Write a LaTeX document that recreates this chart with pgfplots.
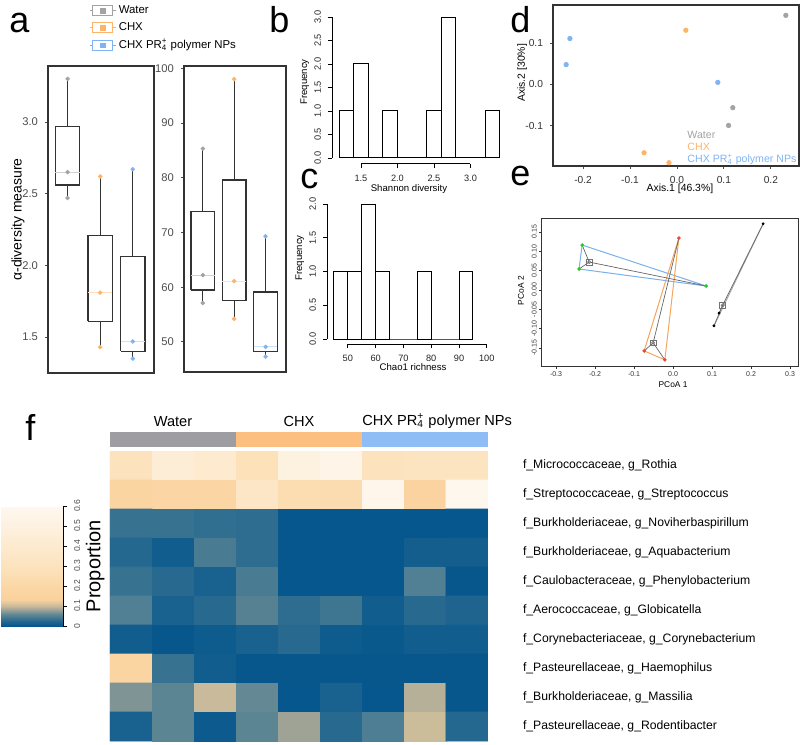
\documentclass[border=0pt]{standalone}
\usepackage{fontspec}
\setmainfont{Liberation Sans}
\usepackage{pgfplots}
\pgfplotsset{compat=1.18}
\usetikzlibrary{calc}

\definecolor{cwat}{HTML}{A3A3A3}
\definecolor{cchx}{HTML}{FDB36A}
\definecolor{cnp}{HTML}{7FB3F5}
\definecolor{boxc}{HTML}{333333}
\definecolor{tickc}{HTML}{4D4D4D}
\definecolor{barwat}{HTML}{9E9EA2}
\definecolor{barchx}{HTML}{FDBF80}
\definecolor{barnp}{HTML}{8EBDF6}
\definecolor{hullnp}{HTML}{7AB0EC}
\definecolor{hullchx}{HTML}{F4A65C}
\definecolor{ptgreen}{HTML}{22CC22}
\definecolor{ptred}{HTML}{E5483A}

\newcommand{\fs}[1]{\fontsize{#1}{#1}\selectfont}
\newcommand{\prf}{PR\rlap{\textsubscript{4}}\textsuperscript{+}}

% positions: 1 px of the reference = 0.5pt, y measured downwards
\pgfplotsset{
  every axis/.append style={scale only axis, anchor=north west,
    /pgf/number format/assume math mode=true},
  bxleg/.style={legend image code/.code={
    \draw[#1, line width=0.5pt] (-1.5pt,0pt) -- (0pt,0pt) (10pt,0pt) -- (11.5pt,0pt);
    \draw[#1, line width=0.5pt] (0pt,-2.5pt) rectangle (10pt,2.5pt);
    \fill[#1] (4pt,-1.2pt) rectangle (6.4pt,1.2pt);}},
  bx/.style={draw=boxc, line width=0.65pt, mark=none},
  med/.style={#1, line width=0.5pt, mark=none},
  apanel/.style={xmin=0.4, xmax=3.65, xtick=\empty,
    axis line style={boxc, line width=0.6pt}, tick align=outside, ytick pos=left,
    major tick length=1.5pt, tick style={tickc, line width=0.4pt},
    yticklabel style={font=\fs{5.6}, text=tickc}},
  rbase/.style={clip=false, axis line style={draw=none}, tick align=outside,
    xtick pos=bottom, ytick pos=left, major tick length=2pt,
    tick style={black, line width=0.4pt},
    ticklabel style={font=\fs{4.6}, text=black!85},
    yticklabel style={rotate=90, anchor=south}},
}

\begin{document}
\begin{tikzpicture}
\path[use as bounding box] (0pt,0pt) rectangle (400pt,-372.5pt);

% panel letters
\node[anchor=base west, inner sep=0, font=\fs{18}] at (4.5pt,-16pt) {a};
\node[anchor=base west, inner sep=0, font=\fs{18}] at (134.5pt,-16pt) {b};
\node[anchor=base west, inner sep=0, font=\fs{18}] at (150pt,-94pt) {c};
\node[anchor=base west, inner sep=0, font=\fs{18}] at (255pt,-16pt) {d};
\node[anchor=base west, inner sep=0, font=\fs{18}] at (255pt,-92.5pt) {e};
\node[anchor=base west, inner sep=0, font=\fs{18}] at (12.5pt,-220pt) {f};

% ---- a: Shannon
\begin{axis}[at={(24pt,-33pt)}, width=53pt, height=153.5pt, apanel,
  ymin=1.25, ymax=3.39, ytick={1.5,2,2.5,3}, yticklabels={1.5,2.0,2.5,3.0},
  ylabel={α-diversity measure},
  ylabel style={font=\fs{7}, at={(axis description cs:-0.283,0.5)}, anchor=center},
  legend style={at={(axis description cs:0.33,1.22)}, anchor=north west, draw=none,
    fill=none, font=\fs{5.7}, row sep=0.6pt, nodes={inner sep=1.2pt}}, legend cell align=left]
\addlegendimage{bxleg=cwat}\addlegendentry{Water}
\addlegendimage{bxleg=cchx}\addlegendentry{CHX}
\addlegendimage{bxleg=cnp}\addlegendentry{CHX \prf{} polymer NPs}
% water
\addplot[bx] coordinates {(1,2.97) (1,3.30)};
\addplot[bx] coordinates {(1,2.56) (1,2.47)};
\addplot[bx] coordinates {(0.625,2.56) (1.375,2.56) (1.375,2.97) (0.625,2.97) (0.625,2.56)};
\addplot[med=cwat!50] coordinates {(0.625,2.65) (1.375,2.65)};
% CHX
\addplot[bx] coordinates {(2,2.21) (2,2.62)};
\addplot[bx] coordinates {(2,1.61) (2,1.43)};
\addplot[bx] coordinates {(1.625,1.61) (2.375,1.61) (2.375,2.21) (1.625,2.21) (1.625,1.61)};
\addplot[med=cchx!40] coordinates {(1.625,1.81) (2.375,1.81)};
% CHX PR4+ NPs
\addplot[bx] coordinates {(3,2.06) (3,2.67)};
\addplot[bx] coordinates {(3,1.40) (3,1.35)};
\addplot[bx] coordinates {(2.625,1.40) (3.375,1.40) (3.375,2.06) (2.625,2.06) (2.625,1.40)};
\addplot[med=cnp!40] coordinates {(2.625,1.47) (3.375,1.47)};
\addplot[only marks, mark=*, mark size=0.9pt, cwat] coordinates {(1,3.30) (1,2.65) (1,2.47)};
\addplot[only marks, mark=*, mark size=0.9pt, cchx] coordinates {(2,2.62) (2,1.81) (2,1.43)};
\addplot[only marks, mark=*, mark size=0.9pt, cnp] coordinates {(3,2.67) (3,1.47) (3,1.35)};
\end{axis}

% ---- a: Chao1
\begin{axis}[at={(92pt,-33pt)}, width=51pt, height=153pt, apanel,
  ymin=44.5, ymax=100.4, ytick={50,60,...,100}]
\addplot[bx] coordinates {(1,73.8) (1,85.3)};
\addplot[bx] coordinates {(1,59.5) (1,57.1)};
\addplot[bx] coordinates {(0.625,59.5) (1.375,59.5) (1.375,73.8) (0.625,73.8) (0.625,59.5)};
\addplot[med=cwat!50] coordinates {(0.625,62.2) (1.375,62.2)};
\addplot[bx] coordinates {(2,79.6) (2,98.0)};
\addplot[bx] coordinates {(2,57.6) (2,54.2)};
\addplot[bx] coordinates {(1.625,57.6) (2.375,57.6) (2.375,79.6) (1.625,79.6) (1.625,57.6)};
\addplot[med=cchx!40] coordinates {(1.625,61.1) (2.375,61.1)};
\addplot[bx] coordinates {(3,59.1) (3,69.3)};
\addplot[bx] coordinates {(3,48.2) (3,47.3)};
\addplot[bx] coordinates {(2.625,48.2) (3.375,48.2) (3.375,59.1) (2.625,59.1) (2.625,48.2)};
\addplot[med=cnp!40] coordinates {(2.625,49.1) (3.375,49.1)};
\addplot[only marks, mark=*, mark size=0.9pt, cwat] coordinates {(1,85.3) (1,62.2) (1,57.1)};
\addplot[only marks, mark=*, mark size=0.9pt, cchx] coordinates {(2,98.0) (2,61.1) (2,54.2)};
\addplot[only marks, mark=*, mark size=0.9pt, cnp] coordinates {(3,69.3) (3,49.1) (3,47.3)};
\end{axis}

% ---- b: Shannon histogram
\begin{axis}[at={(166pt,-8.5pt)}, width=87.5pt, height=73.3pt, rbase,
  xmin=1.104, xmax=3.5, ymin=-0.12, ymax=3,
  xtick={1.5,2,2.5,3}, xticklabels={1.5,2.0,2.5,3.0},
  ytick={0,0.5,...,3}, yticklabels={0.0,0.5,1.0,1.5,2.0,2.5,3.0},
  xlabel={Shannon diversity}, ylabel={Frequency},
  xlabel style={font=\fs{4.8}, at={(axis description cs:0.44,-0.173)}, anchor=center},
  ylabel style={font=\fs{4.8}, at={(axis description cs:-0.155,0.557)}, anchor=center}]
\addplot[ybar interval, fill=white, draw=black, line width=0.5pt] coordinates {
  (1.2,1) (1.4,2) (1.6,0) (1.8,1) (2.0,0) (2.2,0) (2.4,1) (2.6,3) (2.8,0) (3.0,0) (3.2,1) (3.4,0)};
\draw[line width=0.4pt] (axis cs:1.104,0) -- (axis cs:1.104,3);
\draw[line width=0.4pt] (axis cs:1.5,-0.12) -- (axis cs:3,-0.12);
\end{axis}

% ---- c: Chao1 histogram
\begin{axis}[at={(163.5pt,-102pt)}, width=80.6pt, height=70pt, rbase,
  xmin=42.5, xmax=100.5, ymin=-0.074, ymax=2,
  xtick={50,60,...,100}, ytick={0,0.5,...,2}, yticklabels={0.0,0.5,1.0,1.5,2.0},
  xlabel={Chao1 richness}, ylabel={Frequency},
  xlabel style={font=\fs{4.8}, at={(axis description cs:0.534,-0.164)}, anchor=center},
  ylabel style={font=\fs{4.8}, at={(axis description cs:-0.168,0.614)}, anchor=center}]
\addplot[ybar interval, fill=white, draw=black, line width=0.5pt] coordinates {
  (45,1) (50,1) (55,2) (60,1) (65,0) (70,0) (75,1) (80,0) (85,0) (90,1) (95,0)};
\draw[line width=0.4pt] (axis cs:42.5,0) -- (axis cs:42.5,2);
\draw[line width=0.4pt] (axis cs:50,-0.074) -- (axis cs:100,-0.074);
\end{axis}

% ---- d: PCoA scatter
\begin{axis}[at={(276.5pt,-2.5pt)}, width=123pt, height=80.5pt,
  xmin=-0.264, xmax=0.26, ymin=-0.197, ymax=0.192,
  xtick={-0.2,-0.1,0,0.1,0.2}, xticklabels={-0.2,-0.1,0.0,0.1,0.2},
  ytick={-0.1,0,0.1}, yticklabels={-0.1,0.0,0.1},
  axis line style={boxc, line width=0.7pt}, tick align=outside, xtick pos=bottom, ytick pos=left,
  major tick length=1.5pt, tick style={tickc, line width=0.4pt},
  ticklabel style={font=\fs{5.1}, text=black!80},
  xlabel={Axis.1 [46.3\%]}, ylabel={Axis.2 [30\%]},
  xlabel style={font=\fs{5.2}, at={(axis description cs:0.516,-0.143)}, anchor=center},
  ylabel style={font=\fs{5.2}, at={(axis description cs:-0.125,0.578)}, anchor=center}]
\addplot[only marks, mark=*, mark size=1.1pt, cwat] coordinates {(0.232,0.167) (0.119,-0.056) (0.110,-0.099)};
\addplot[only marks, mark=*, mark size=1.1pt, cchx] coordinates {(0.019,0.131) (-0.070,-0.165) (-0.017,-0.189)};
\addplot[only marks, mark=*, mark size=1.1pt, cnp] coordinates {(-0.228,0.111) (-0.236,0.048) (0.087,0.005)};
\node[anchor=west, inner sep=0, text=cwat, font=\fs{5.3}] at (axis description cs:0.545,0.193) {Water};
\node[anchor=west, inner sep=0, text=cchx, font=\fs{5.3}] at (axis description cs:0.545,0.118) {CHX};
\node[anchor=west, inner sep=0, text=cnp, font=\fs{5.3}] at (axis description cs:0.545,0.043) {CHX \prf{} polymer NPs};
\end{axis}

% ---- e: betadisper
\begin{axis}[at={(271pt,-109pt)}, width=128.5pt, height=74pt,
  xmin=-0.336, xmax=0.323, ymin=-0.197, ymax=0.186,
  xtick={-0.3,-0.2,...,0.3}, xticklabels={-0.3,-0.2,-0.1,0.0,0.1,0.2,0.3},
  ytick={-0.15,-0.1,...,0.15}, yticklabels={-0.15,-0.10,-0.05,0.00,0.05,0.10,0.15},
  axis line style={black!80, line width=0.5pt}, tick align=outside, xtick pos=bottom, ytick pos=left,
  major tick length=1.5pt, tick style={black!80, line width=0.3pt},
  ticklabel style={font=\fs{3.5}, text=black!80, inner sep=1pt},
  yticklabel style={rotate=90, anchor=south},
  xlabel={PCoA 1}, ylabel={PCoA 2},
  xlabel style={font=\fs{4.2}, at={(axis description cs:0.51,-0.125)}, anchor=center},
  ylabel style={font=\fs{4.2}, at={(axis description cs:-0.082,0.51)}, anchor=center}]
\addplot[hullnp, line width=0.5pt] coordinates {(-0.233,0.116) (-0.241,0.054) (0.085,0.010) (-0.233,0.116)};
\addplot[hullchx, line width=0.5pt] coordinates {(0.015,0.134) (-0.074,-0.158) (-0.021,-0.181) (0.015,0.134)};
\addplot[black!35, line width=0.5pt] coordinates {(0.231,0.171) (0.105,-0.093)};
\addplot[black!60, line width=0.35pt] coordinates {(-0.215,0.072) (-0.233,0.116) (-0.215,0.072) (-0.241,0.054) (-0.215,0.072) (0.085,0.010)};
\addplot[black!60, line width=0.35pt] coordinates {(-0.051,-0.137) (0.015,0.134) (-0.051,-0.137) (-0.074,-0.158) (-0.051,-0.137) (-0.021,-0.181)};
\addplot[black!60, line width=0.35pt] coordinates {(0.127,-0.040) (0.231,0.171) (0.127,-0.040) (0.118,-0.060) (0.127,-0.040) (0.105,-0.093)};
\addplot[only marks, mark=*, mark size=0.7pt, ptgreen] coordinates {(-0.233,0.116) (-0.241,0.054) (0.085,0.010)};
\addplot[only marks, mark=*, mark size=0.7pt, ptred] coordinates {(0.015,0.134) (-0.074,-0.158) (-0.021,-0.181)};
\addplot[only marks, mark=*, mark size=0.5pt, black] coordinates {(0.231,0.171) (0.118,-0.060) (0.105,-0.093)};
\addplot[only marks, mark=square, mark size=1.4pt, black!55, mark options={line width=0.35pt}] coordinates {(-0.215,0.072) (-0.051,-0.137) (0.127,-0.040)};
\addplot[only marks, mark=o, mark size=0.8pt, black!55, mark options={line width=0.3pt}] coordinates {(-0.215,0.072) (-0.051,-0.137) (0.127,-0.040)};
\end{axis}

% ---- f: group bar
\begin{axis}[at={(55pt,-216pt)}, width=189pt, height=7.5pt, xmin=0, xmax=9, ymin=0, ymax=1,
  hide axis, clip=false]
\addplot[draw=none, fill=barwat] coordinates {(0,0) (3,0) (3,1) (0,1)} -- cycle;
\addplot[draw=none, fill=barchx] coordinates {(3,0) (6,0) (6,1) (3,1)} -- cycle;
\addplot[draw=none, fill=barnp] coordinates {(6,0) (9,0) (9,1) (6,1)} -- cycle;
\node[font=\fs{7.3}] at (axis cs:1.5,1.73) {Water};
\node[font=\fs{7.3}] at (axis cs:4.5,1.73) {CHX};
\node[font=\fs{7.3}] at (axis cs:7.79,1.73) {CHX \prf{} polymer NPs};
\end{axis}

% ---- f: heatmap
\begin{axis}[at={(55pt,-225.5pt)}, width=189pt, height=145pt,
  xmin=-0.5, xmax=8.5, ymin=-0.5, ymax=9.5, y dir=reverse,
  axis line style={draw=none}, xtick=\empty, ytick={0,...,9}, yticklabel pos=right,
  tick style={draw=none},
  yticklabels={{f\_Micrococcaceae, g\_Rothia},
    {f\_Streptococcaceae, g\_Streptococcus},
    {f\_Burkholderiaceae, g\_Noviherbaspirillum},
    {f\_Burkholderiaceae, g\_Aquabacterium},
    {f\_Caulobacteraceae, g\_Phenylobacterium},
    {f\_Aerococcaceae, g\_Globicatella},
    {f\_Corynebacteriaceae, g\_Corynebacterium},
    {f\_Pasteurellaceae, g\_Haemophilus},
    {f\_Burkholderiaceae, g\_Massilia},
    {f\_Pasteurellaceae, g\_Rodentibacter}},
  yticklabel style={font=\fs{6.1}, anchor=west, xshift=14pt},
  colormap={prop}{rgb255(0pt)=(4,86,141); rgb255(2pt)=(30,100,143); rgb255(4pt)=(62,118,146);
    rgb255(6pt)=(100,137,148); rgb255(8pt)=(155,160,150); rgb255(10pt)=(200,186,154);
    rgb255(13pt)=(248,209,158); rgb255(18pt)=(251,213,162); rgb255(30pt)=(252,227,190);
    rgb255(60pt)=(254,248,240)},
  point meta min=0, point meta max=0.6,
  colorbar, colorbar/width=31pt,
  colorbar style={at={($(parent axis.north west)+(-63pt,-27.5pt)$)}, anchor=north west,
    height=60pt, ymin=0, ymax=0.6,
    ytick={0,0.1,...,0.6}, yticklabels={0,0.1,0.2,0.3,0.4,0.5,0.6},
    axis line style={draw=none}, tick align=outside, ytick pos=right, yticklabel pos=right,
    major tick length=2pt, tick style={draw=black, line width=0.4pt},
    yticklabel style={rotate=90, anchor=north, font=\fs{4.3}, text=tickc},
    ylabel={Proportion},
    ylabel style={font=\fs{10}, at={(axis description cs:1.52,0.5)}, anchor=center},
    extra description/.code={\draw[line width=0.5pt] (rel axis cs:1,0) -- (rel axis cs:1,1);}}]
\addplot[matrix plot*, mesh/cols=9, point meta=explicit] coordinates {
(0,0)[0.30] (1,0)[0.45] (2,0)[0.40] (3,0)[0.28] (4,0)[0.50] (5,0)[0.55] (6,0)[0.30] (7,0)[0.32] (8,0)[0.31]
(0,1)[0.17] (1,1)[0.19] (2,1)[0.19] (3,1)[0.34] (4,1)[0.25] (5,1)[0.24] (6,1)[0.57] (7,1)[0.16] (8,1)[0.58]
(0,2)[0.036] (1,2)[0.036] (2,2)[0.032] (3,2)[0.030] (4,2)[0.001] (5,2)[0.001] (6,2)[0.001] (7,2)[0.001] (8,2)[0.001]
(0,3)[0.024] (1,3)[0.010] (2,3)[0.046] (3,3)[0.030] (4,3)[0.001] (5,3)[0.001] (6,3)[0.001] (7,3)[0.012] (8,3)[0.012]
(0,4)[0.036] (1,4)[0.026] (2,4)[0.016] (3,4)[0.046] (4,4)[0.001] (5,4)[0.001] (6,4)[0.001] (7,4)[0.050] (8,4)[0.002]
(0,5)[0.050] (1,5)[0.016] (2,5)[0.026] (3,5)[0.052] (4,5)[0.030] (5,5)[0.040] (6,5)[0.010] (7,5)[0.026] (8,5)[0.020]
(0,6)[0.010] (1,6)[0.002] (2,6)[0.008] (3,6)[0.016] (4,6)[0.026] (5,6)[0.008] (6,6)[0.004] (7,6)[0.010] (8,6)[0.010]
(0,7)[0.170] (1,7)[0.036] (2,7)[0.010] (3,7)[0.002] (4,7)[0.002] (5,7)[0.002] (6,7)[0.002] (7,7)[0.002] (8,7)[0.002]
(0,8)[0.070] (1,8)[0.056] (2,8)[0.100] (3,8)[0.060] (4,8)[0.001] (5,8)[0.016] (6,8)[0.001] (7,8)[0.092] (8,8)[0.002]
(0,9)[0.016] (1,9)[0.056] (2,9)[0.006] (3,9)[0.056] (4,9)[0.082] (5,9)[0.026] (6,9)[0.048] (7,9)[0.102] (8,9)[0.024]
};
\end{axis}
\end{tikzpicture}
\end{document}
